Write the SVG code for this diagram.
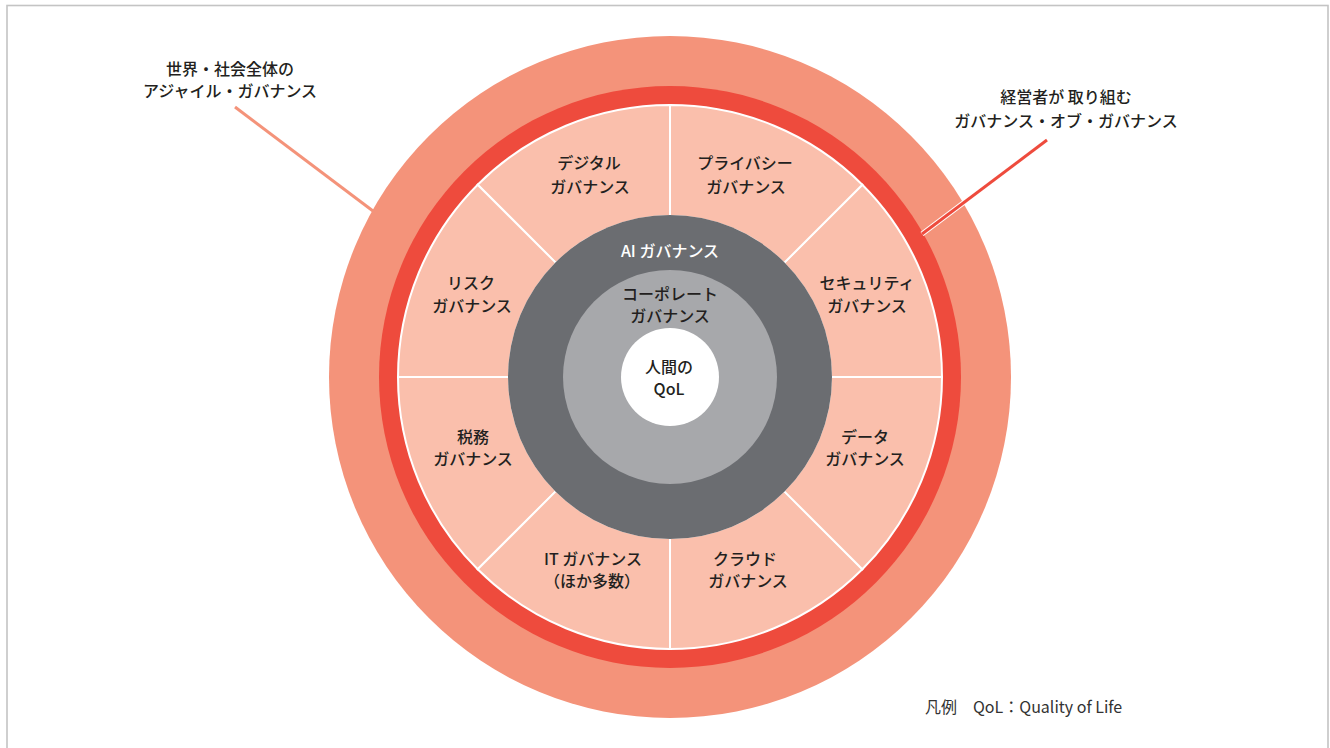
<svg xmlns="http://www.w3.org/2000/svg" width="1330" height="748" viewBox="0 0 1330 748">
<style>
text{font-family:"Noto Sans CJK JP","Noto Sans",sans-serif;font-size:16px;font-weight:500;fill:#231f20;text-anchor:middle}
.seg path{fill:#fabfac;stroke:#ffffff;stroke-width:2}
.w{fill:#ffffff}
.legend{font-size:16px;font-weight:400;text-anchor:start;fill:#333333}
</style>
<rect x="7" y="5.5" width="1321" height="800" fill="#ffffff" stroke="#c4c4c4" stroke-width="1.6"/>

<g id="outer-ring"><circle cx="670" cy="377" r="341" fill="#f4937a"/></g>
<g id="red-ring"><circle cx="670" cy="377" r="291" fill="#ee4b3d"/></g>

<g id="seg-security" class="seg"><path d="M942,377 A272,272 0 0 0 862.33,184.67 L783.84,263.16 A161,161 0 0 1 831,377 Z"/><text x="867" y="289">セキュリティ<tspan x="867" dy="23">ガバナンス</tspan></text></g>
<g id="seg-privacy" class="seg"><path d="M862.33,184.67 A272,272 0 0 0 670,105 L670,216 A161,161 0 0 1 783.84,263.16 Z"/><text x="745" y="169">プライバシー<tspan x="746" dy="24">ガバナンス</tspan></text></g>
<g id="seg-digital" class="seg"><path d="M670,105 A272,272 0 0 0 477.67,184.67 L556.16,263.16 A161,161 0 0 1 670,216 Z"/><text x="589" y="169">デジタル<tspan x="590" dy="24">ガバナンス</tspan></text></g>
<g id="seg-risk" class="seg"><path d="M477.67,184.67 A272,272 0 0 0 398,377 L509,377 A161,161 0 0 1 556.16,263.16 Z"/><text x="471" y="289">リスク<tspan x="472" dy="23">ガバナンス</tspan></text></g>
<g id="seg-tax" class="seg"><path d="M398,377 A272,272 0 0 0 477.67,569.33 L556.16,490.84 A161,161 0 0 1 509,377 Z"/><text x="473" y="443">税務<tspan x="473" dy="22">ガバナンス</tspan></text></g>
<g id="seg-it" class="seg"><path d="M477.67,569.33 A272,272 0 0 0 670,649 L670,538 A161,161 0 0 1 556.16,490.84 Z"/><text x="593" y="565">IT ガバナンス<tspan x="592" dy="22">（ほか多数）</tspan></text></g>
<g id="seg-cloud" class="seg"><path d="M670,649 A272,272 0 0 0 862.33,569.33 L783.84,490.84 A161,161 0 0 1 670,538 Z"/><text x="745" y="565">クラウド<tspan x="748" dy="22">ガバナンス</tspan></text></g>
<g id="seg-data" class="seg"><path d="M862.33,569.33 A272,272 0 0 0 942,377 L831,377 A161,161 0 0 1 783.84,490.84 Z"/><text x="865" y="443">データ<tspan x="865" dy="22">ガバナンス</tspan></text></g>

<g id="ai-governance"><circle cx="670" cy="377" r="162" fill="#6b6d71"/><text x="670" y="257" class="w">AI ガバナンス</text></g>
<g id="corporate-governance"><circle cx="670" cy="377" r="107" fill="#a7a8ab"/><text x="670" y="300">コーポレート<tspan x="670" dy="22">ガバナンス</tspan></text></g>
<g id="human-qol"><circle cx="670" cy="377" r="49" fill="#ffffff"/><text x="669" y="373">人間の<tspan x="669" dy="22">QoL</tspan></text></g>

<g id="connectors">
<line x1="235" y1="107" x2="373" y2="211" stroke="#f4937a" stroke-width="3"/>
<line x1="1047" y1="140" x2="922" y2="234" stroke="#ffffff" stroke-width="5"/>
<line x1="1047" y1="140" x2="922" y2="234" stroke="#ee4b3d" stroke-width="3"/>
</g>

<g id="label-world"><text x="230" y="75">世界・社会全体の<tspan x="230" dy="22">アジャイル・ガバナンス</tspan></text></g>
<g id="label-management"><text x="1066" y="103">経営者が 取り組む<tspan x="1066" dy="24">ガバナンス・オブ・ガバナンス</tspan></text></g>
<g id="legend"><text x="925" y="713" class="legend">凡例　QoL：Quality of Life</text></g>
</svg>
